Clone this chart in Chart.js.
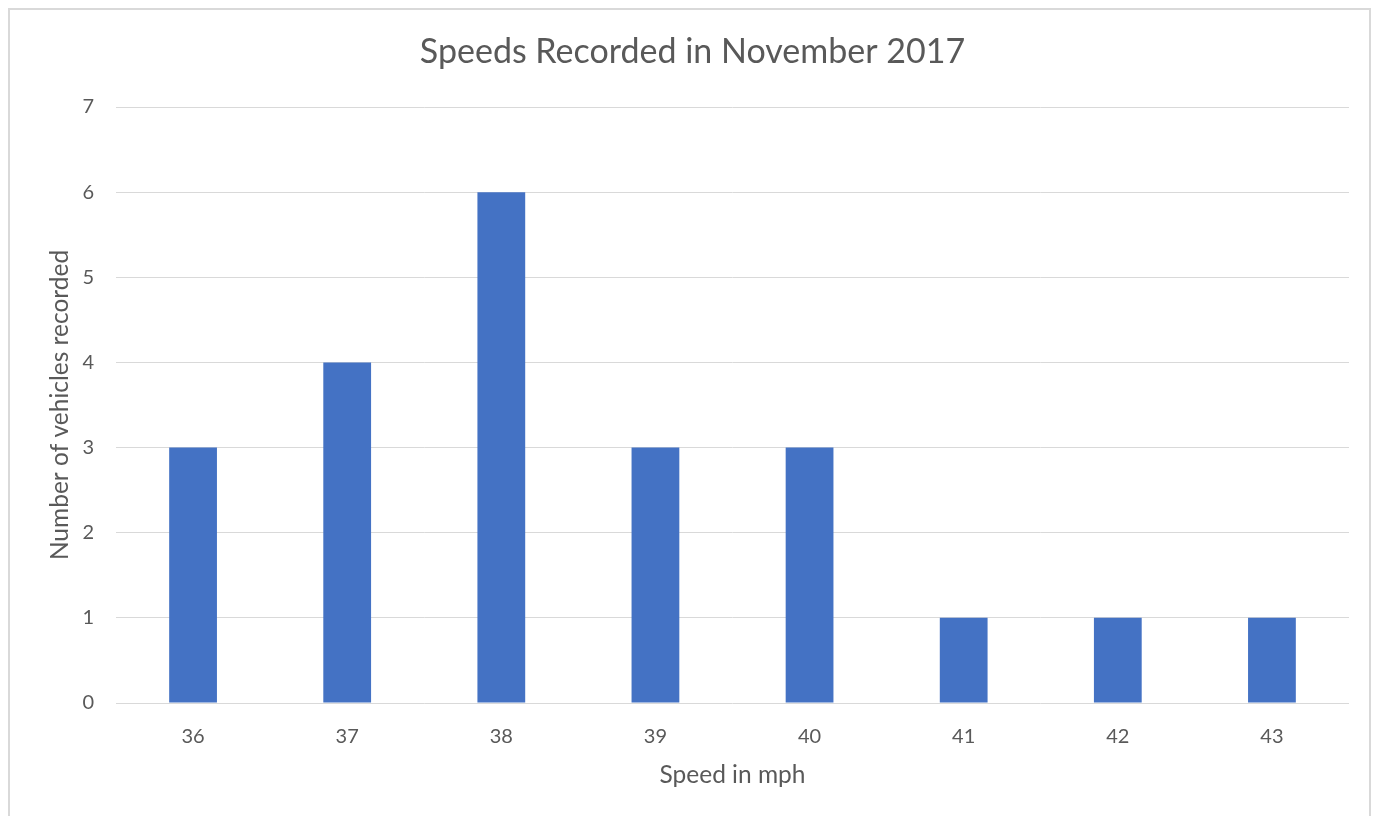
<!DOCTYPE html>
<html>
<head>
<meta charset="utf-8">
<script src="https://cdn.jsdelivr.net/npm/chart.js@4"></script>
<style>
    html, body { margin: 0; padding: 0; background: #fff; overflow: hidden; }
    #marco {
        position: absolute; left: 8px; top: 8px; width: 1363px; height: 830px;
        border: 2px solid #d9d9d9; box-sizing: border-box;
    }
    #lienzo { position: absolute; left: 0; top: 0; }
</style>
</head>
<body>
<div id="marco"></div>
<canvas id="lienzo" width="1379" height="816"></canvas>
<script>
// datos de la grafica
const velocidades = ['36', '37', '38', '39', '40', '41', '42', '43'];
const vehiculos = [3, 4, 6, 3, 3, 1, 1, 1];
const marcasY = [0, 1, 2, 3, 4, 5, 6, 7];

const gris = '#595959';
const fuente = "Lato, 'Open Sans', sans-serif";

window.onload = function () {
    const ctx = document.getElementById('lienzo').getContext('2d');
    new Chart(ctx, {
        type: 'bar',
        data: {
            labels: velocidades,
            datasets: [{
                data: vehiculos,
                backgroundColor: '#4472c4',
                borderWidth: 0,
                categoryPercentage: 1,
                barPercentage: 0.31
            }]
        },
        options: {
            responsive: false,
            animation: false,
            layout: { padding: { left: 36, right: 30, top: 16, bottom: 20 } },
            plugins: {
                legend: { display: false },
                tooltip: { enabled: false },
                title: {
                    display: true,
                    text: 'Speeds Recorded in November 2017',
                    color: gris,
                    font: { family: fuente, size: 34, weight: 'normal' },
                    padding: { top: 15.6, bottom: 34.6 }
                }
            },
            scales: {
                x: {
                    grid: { display: false },
                    border: { display: false },
                    ticks: { color: gris, font: { family: fuente, size: 20 }, padding: 14 },
                    title: {
                        display: true,
                        text: 'Speed in mph',
                        color: gris,
                        font: { family: fuente, size: 24.5 },
                        padding: { top: 0, bottom: 6 }
                    },
                    afterFit: (escala) => { escala.height = 816 - 703 - 20; }
                },
                y: {
                    min: 0,
                    max: 7,
                    afterBuildTicks: (escala) => {
                        escala.ticks = marcasY.map(v => ({ value: v }));
                    },
                    grid: { color: '#d9d9d9', lineWidth: 1, drawTicks: false },
                    border: { display: false },
                    ticks: { color: gris, font: { family: fuente, size: 20 }, padding: 22 },
                    title: {
                        display: true,
                        text: 'Number of vehicles recorded',
                        color: gris,
                        font: { family: fuente, size: 24.5 },
                        padding: { top: 9, bottom: 0 }
                    },
                    afterFit: (escala) => { escala.width = 80; }
                }
            }
        }
    });
};
</script>
</body>
</html>
